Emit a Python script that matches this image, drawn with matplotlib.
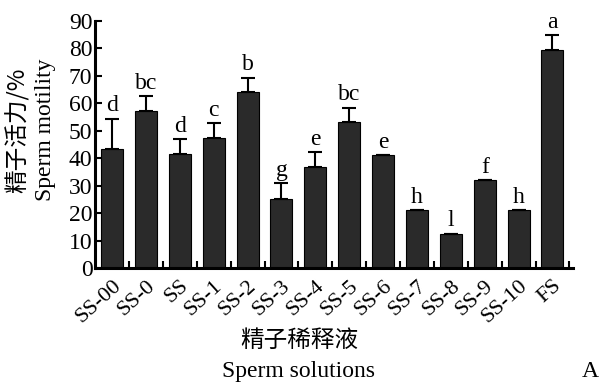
import numpy as np
import matplotlib.pyplot as plt

plt.rcParams['font.family'] = ['Liberation Serif', 'Noto Sans CJK SC']

categories = ['SS-00', 'SS-0', 'SS', 'SS-1', 'SS-2', 'SS-3', 'SS-4',
              'SS-5', 'SS-6', 'SS-7', 'SS-8', 'SS-9', 'SS-10', 'FS']
motility = [43.3, 57.1, 41.6, 47.4, 64.0, 25.3, 36.8, 53.0, 41.2, 21.1, 12.6, 32.0, 21.1, 79.3]
errors = [11.1, 5.4, 5.2, 5.3, 5.3, 5.5, 5.4, 5.4, 0, 0, 0, 0, 0, 5.5]
letters = ['d', 'bc', 'd', 'c', 'b', 'g', 'e', 'bc', 'e', 'h', 'l', 'f', 'h', 'a']

fig = plt.figure(figsize=(6.1, 3.82), dpi=100)
ax = fig.add_axes([0.156, 0.298, 0.783, 0.648])

x = np.arange(len(categories))
ax.bar(x, motility, width=0.65, color='#2a2a2a', edgecolor='black', linewidth=0.8)
ax.errorbar(x, motility, yerr=[np.zeros(len(errors)), errors], fmt='none',
            ecolor='black', elinewidth=1.5, capsize=5, capthick=1.5)
for xi, v, e, t in zip(x, motility, errors, letters):
    ax.text(xi, v + e + 0.8, t, ha='center', va='bottom', fontsize=17)

ax.set_xlim(-0.5, 13.6)
ax.set_ylim(0, 90)
ax.set_yticks(np.arange(0, 91, 10))
ax.set_xticks(x)
ax.set_xticklabels(categories, rotation=42, ha='right', rotation_mode='anchor', fontsize=16)
ax.set_xticks(x + 0.5, minor=True)
ax.tick_params(axis='x', which='major', length=0, pad=6)
ax.tick_params(axis='x', which='minor', direction='in', length=5, width=1.5)
ax.tick_params(axis='y', direction='in', length=5, width=1.5, labelsize=17, pad=2)
for s in ['top', 'right']:
    ax.spines[s].set_visible(False)
for s in ['left', 'bottom']:
    ax.spines[s].set_linewidth(2.2)

fig.text(0.028, 0.66, '精子活力/%', rotation=90, ha='center', va='center', fontsize=17,
         family=['Noto Sans CJK SC'], fontweight='light')
fig.text(0.075, 0.66, 'Sperm motility', rotation=90, ha='center', va='center', fontsize=17)
fig.text(0.49, 0.11, '精子稀释液', ha='center', va='center', fontsize=17,
         family=['Noto Sans CJK SC'], fontweight='light')
fig.text(0.49, 0.028, 'Sperm solutions', ha='center', va='center', fontsize=17)
fig.text(0.967, 0.028, 'A', ha='center', va='center', fontsize=17)

fig.savefig('out.png', dpi=100)
